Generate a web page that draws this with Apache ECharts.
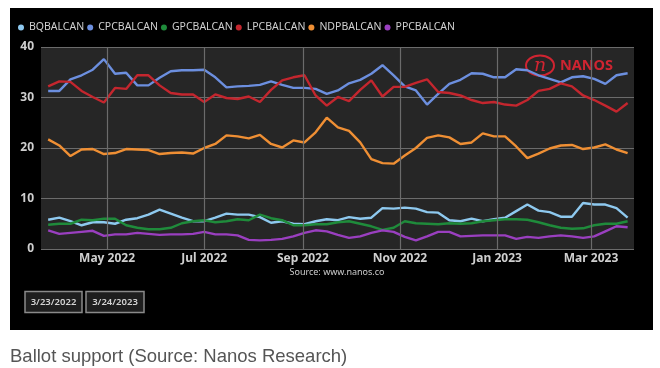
<!DOCTYPE html>
<html>
<head>
<meta charset="utf-8">
<script src="https://cdn.jsdelivr.net/npm/echarts@6/dist/echarts.min.js"></script>
<style>
  html, body { margin: 0; padding: 0; background: #ffffff; width: 660px; height: 368px; overflow: hidden; }
  #panel { position: absolute; left: 10px; top: 8px; width: 643px; height: 322px; background: #000000; }
  #chart { position: absolute; left: 0; top: 0; width: 660px; height: 368px; }
  #caption { position: absolute; left: 10px; top: 347px; font-family: "Liberation Sans", Arial, sans-serif; font-size: 18.5px; line-height: 18.5px; color: #555555; white-space: nowrap; }
</style>
</head>
<body>
<div id="panel"></div>
<div id="chart"></div>
<div id="caption">Ballot support (Source: Nanos Research)</div>
<script>
// Weekly survey dates
const dates = [
  '2022-03-25','2022-04-01','2022-04-08','2022-04-15','2022-04-22','2022-04-29',
  '2022-05-06','2022-05-13','2022-05-20','2022-05-27','2022-06-03','2022-06-10',
  '2022-06-17','2022-06-24','2022-07-01','2022-07-08','2022-07-15','2022-07-22',
  '2022-07-29','2022-08-05','2022-08-12','2022-08-19','2022-08-26','2022-09-02',
  '2022-09-09','2022-09-16','2022-09-23','2022-09-30','2022-10-07','2022-10-14',
  '2022-10-21','2022-10-28','2022-11-04','2022-11-11','2022-11-18','2022-11-25',
  '2022-12-02','2022-12-09','2022-12-16','2022-12-23','2022-12-30','2023-01-06',
  '2023-01-13','2023-01-20','2023-01-27','2023-02-03','2023-02-10','2023-02-17',
  '2023-02-24','2023-03-03','2023-03-10','2023-03-17','2023-03-24'
];
const seriesNames = ['BQBALCAN','CPCBALCAN','GPCBALCAN','LPCBALCAN','NDPBALCAN','PPCBALCAN'];
const BQ  = [5.8,6.2,5.5,4.7,5.3,5.3,5.0,5.8,6.1,6.8,7.8,7.0,6.2,5.5,5.5,6.2,7.0,6.8,6.8,6.3,5.2,5.5,5.0,4.9,5.5,5.9,5.7,6.3,6.0,6.2,8.1,8.0,8.2,8.0,7.3,7.2,5.7,5.5,6.0,5.5,5.9,6.2,7.5,8.8,7.6,7.3,6.4,6.4,9.1,8.8,8.8,8.1,6.2];
const CPC = [31.3,31.3,33.6,34.4,35.5,37.6,34.7,34.9,32.4,32.4,33.9,35.2,35.4,35.4,35.5,34.0,32.0,32.2,32.3,32.5,33.2,32.5,31.9,31.9,31.7,30.7,31.4,32.8,33.5,34.7,36.4,34.4,32.2,31.4,28.6,30.7,32.7,33.5,34.8,34.7,34.0,34.0,35.6,35.4,34.4,33.7,33.0,34.0,34.2,33.7,32.7,34.4,34.8];
const GPC = [4.8,5.0,5.0,5.8,5.7,6.0,6.0,4.7,4.2,3.9,3.9,4.2,5.1,5.5,5.7,5.3,5.5,5.9,5.7,6.8,6.1,5.7,4.7,4.7,4.9,4.9,5.3,5.5,5.0,4.5,3.8,4.2,5.5,5.1,5.0,4.9,5.1,5.0,5.1,5.5,5.7,5.9,5.9,5.8,5.3,4.7,4.2,4.0,4.1,4.7,5.0,5.0,5.5];
const LPC = [32.2,33.2,33.1,31.3,30.1,29.0,31.9,31.7,34.4,34.4,32.4,30.9,30.6,30.6,29.1,30.6,29.9,29.7,30.2,29.1,31.5,33.4,34.0,34.4,30.4,28.4,30.1,29.3,31.5,33.4,30.2,32.1,32.1,32.9,33.6,31.1,30.9,30.4,29.5,28.9,29.1,28.6,28.4,29.5,31.3,31.7,32.8,32.2,30.4,29.5,28.4,27.2,28.9];
const NDP = [21.7,20.5,18.4,19.7,19.8,18.8,19.0,19.8,19.7,19.6,18.8,19.0,19.1,18.9,20.0,20.8,22.5,22.3,21.9,22.6,20.8,20.1,21.5,21.1,23.1,26.0,24.1,23.4,21.1,17.8,17.0,16.9,18.5,20.0,22.0,22.5,22.1,20.8,21.1,22.9,22.3,22.3,20.3,18.0,18.9,19.9,20.5,20.6,19.8,20.1,20.7,19.7,19.0];
const PPC = [3.7,3.0,3.2,3.4,3.6,2.6,2.9,2.9,3.2,3.0,2.8,2.9,2.9,3.0,3.4,2.9,2.9,2.7,1.8,1.7,1.8,2.0,2.5,3.2,3.7,3.5,2.8,2.2,2.5,3.2,3.7,3.4,2.4,1.7,2.5,3.4,3.4,2.5,2.6,2.7,2.7,2.7,2.0,2.4,2.2,2.5,2.7,2.5,2.2,2.5,3.5,4.5,4.3];
const seriesColors = ['#8ec9ef','#6c8fdf','#1f8b3b','#c4262e','#ef8f34','#9a3fc0'];
// x-axis month ticks and labels
const monthTicks  = ['2022-05-01','2022-07-01','2022-09-01','2022-11-01','2023-01-01','2023-03-01'];
const monthLabels = ['May 2022','Jul 2022','Sep 2022','Nov 2022','Jan 2023','Mar 2023'];
const yTicks = [0, 10, 20, 30, 40];
const dateRange = ['3/23/2022', '3/24/2023'];
const sourceText = 'Source: www.nanos.co';

const values = [BQ, CPC, GPC, LPC, NDP, PPC];
const FONT = '"Noto Sans", "Open Sans", sans-serif';
const labelColor = '#cfcfcf';
const gridColor = '#6b6b6b';

const chart = echarts.init(document.getElementById('chart'), null, { renderer: 'canvas' });

const series = seriesNames.map((name, k) => ({
  name: name,
  type: 'line',
  data: dates.map((d, i) => [d, values[k][i]]),
  showSymbol: false,
  symbol: 'none',
  lineStyle: { width: 2.4, color: seriesColors[k] },
  itemStyle: { color: seriesColors[k] },
  z: 3,
  animation: false
}));

// vertical month grid lines with labels, placed on the time scale
series[0].markLine = {
  silent: true,
  symbol: 'none',
  animation: false,
  lineStyle: { color: gridColor, width: 1.2, type: 'solid' },
  label: {
    show: true, position: 'start', distance: 4,
    color: labelColor, fontFamily: FONT, fontSize: 12, fontWeight: 'bold'
  },
  data: monthTicks.map((t, i) => [
    { coord: [t, yTicks[0]], label: { formatter: monthLabels[i] } },
    { coord: [t, yTicks[yTicks.length - 1]] }
  ])
};

const boxes = [];
const boxX = [25, 86];
const boxW = [57, 58];
dateRange.forEach((txt, i) => {
  boxes.push({
    type: 'rect', z: 5,
    shape: { x: boxX[i], y: 291.5, width: boxW[i], height: 21 },
    style: { fill: '#1e1e1e', stroke: '#8a8a8a', lineWidth: 1.5 }
  });
  boxes.push({
    type: 'text', z: 6,
    x: boxX[i] + boxW[i] / 2, y: 302.5,
    style: { text: txt, fill: '#d4d4d4', font: '600 9.5px ' + FONT, align: 'center', verticalAlign: 'middle' }
  });
});

chart.setOption({
  backgroundColor: 'transparent',
  animation: false,
  textStyle: { fontFamily: FONT },
  legend: {
    data: seriesNames,
    left: 18, top: 22,
    padding: 0,
    icon: 'circle',
    itemWidth: 6, itemHeight: 6, itemGap: 3,
    textStyle: { color: labelColor, fontSize: 10.5, fontFamily: FONT }
  },
  grid: {
    left: 41, right: 26, top: 47, bottom: 119,
    show: true, backgroundColor: '#262626', borderWidth: 0
  },
  xAxis: {
    type: 'time',
    min: '2022-03-20T12:00:00',
    max: '2023-03-28T00:00:00',
    axisLine: { show: false },
    axisTick: { show: false },
    axisLabel: { show: false },
    splitLine: { show: false }
  },
  yAxis: {
    type: 'value',
    min: yTicks[0], max: yTicks[yTicks.length - 1], interval: 10,
    axisLine: { show: false },
    axisTick: { show: false },
    axisLabel: { color: labelColor, fontSize: 12, fontWeight: 'bold', fontFamily: FONT, margin: 7 },
    splitLine: { lineStyle: { color: gridColor, width: 1.2 } }
  },
  graphic: [
    // NANOS watermark logo
    { type: 'ellipse', z: 1, shape: { cx: 540, cy: 65.5, rx: 14, ry: 10 },
      style: { fill: 'none', stroke: '#cf2431', lineWidth: 2 } },
    { type: 'text', z: 1, x: 540, y: 66,
      style: { text: 'n', fill: '#cf2431', font: 'italic 19px "DejaVu Serif", serif', align: 'center', verticalAlign: 'middle' } },
    { type: 'text', z: 1, x: 560, y: 66,
      style: { text: 'NANOS', fill: '#cf2431', font: 'bold 14.5px ' + FONT, align: 'left', verticalAlign: 'middle' } },
    { type: 'text', z: 5, x: 337, y: 272,
      style: { text: sourceText, fill: '#cccccc', font: '9px ' + FONT, align: 'center', verticalAlign: 'middle' } }
  ].concat(boxes),
  series: series
});
</script>
</body>
</html>
